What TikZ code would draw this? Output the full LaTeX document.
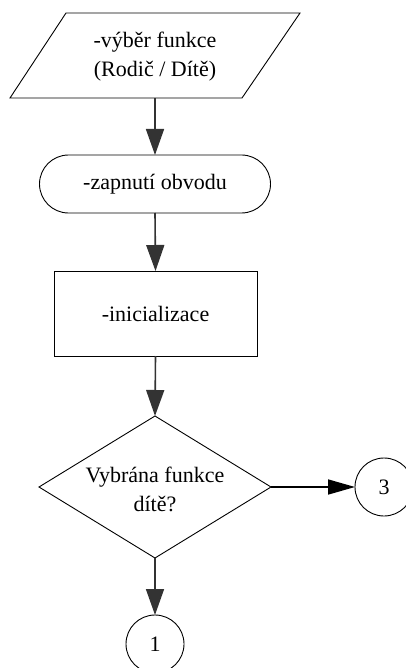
\documentclass[tikz,border=0pt]{standalone}
\usepackage{fontspec}
\setmainfont{Liberation Serif}
\usetikzlibrary{shapes.geometric,shapes.misc,arrows.meta}
\tikzset{
  outline/.style={draw=black, line width=0.9pt},
  txt/.style={font=\fontsize{22}{29}\selectfont, align=center, inner sep=0pt},
  conn/.style={draw=black!80, line width=1.6pt, -{Triangle[width=18pt,length=26pt]}},
  conncirc/.style={circle, outline, minimum size=58pt, inner sep=0pt, outer sep=0pt, font=\fontsize{22}{24}\selectfont},
}
\begin{document}
\begin{tikzpicture}[x=1pt,y=-1pt]
\useasboundingbox (0,0) rectangle (406,668);
% parallelogram (input)
\draw[outline] (66,13) -- (300,13) -- (242,98) -- (10,98) -- cycle;
\node[txt, minimum height=85pt, minimum width=100pt, outer sep=0pt] (inp) at (155,57) {-výběr funkce\\(Rodič / Dítě)};
\coordinate (inpB) at (155,98);
% stadium
\node[rounded rectangle, outline, minimum width=231pt, minimum height=58pt, inner sep=0pt, outer sep=0pt, txt] (on) at (155,184) {-zapnutí obvodu};
% rectangle
\node[rectangle, outline, minimum width=203pt, minimum height=85pt, inner sep=0pt, outer sep=0pt, txt] (init) at (155.5,313.5) {-inicializace};
% decision
\node[diamond, outline, minimum width=232pt, minimum height=142pt, inner sep=0pt, outer sep=0pt] (dec) at (155,487) {};
\node[txt] (dectxt) at (155,489) {Vybrána funkce\\dítě?};
% connector circles
\node[conncirc] (c3) at (384,487) {3};
\node[conncirc] (c1) at (155,644) {1};
% arrows
\draw[conn] (inpB) -- (on.north);
\draw[conn] (on.south) -- (init.north);
\draw[conn] (init.south) -- (dec.north);
\draw[conn, draw=black, -{Triangle[width=15pt,length=27pt]}] (dec.east) -- (c3.west);
\draw[conn] (dec.south) -- (c1.north);
\end{tikzpicture}
\end{document}
